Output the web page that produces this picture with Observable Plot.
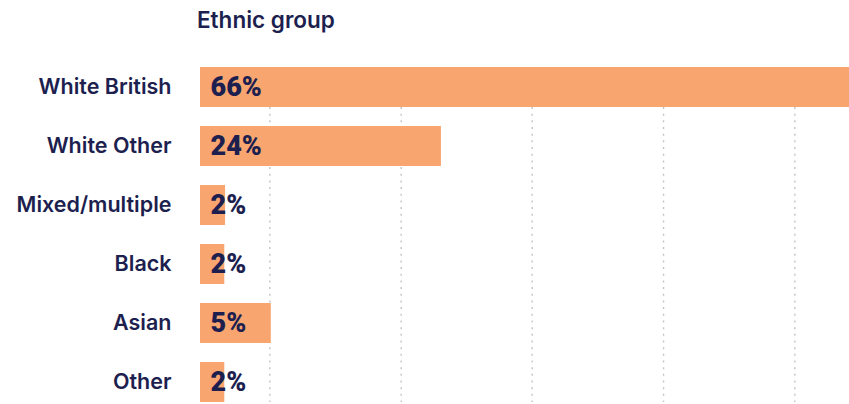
<!DOCTYPE html>
<html>
<head>
<meta charset="utf-8">
<script src="https://cdn.jsdelivr.net/npm/d3@7"></script>
<script src="https://cdn.jsdelivr.net/npm/@observablehq/plot@0.6"></script>
<style>
  html, body { margin: 0; padding: 0; background: #fff; }
  #title { height: 40px; line-height: 40px; padding-left: 197px; font-family: Inter, "Noto Sans", sans-serif; font-weight: 600; font-size: 22.5px; color: #1d1f4f; white-space: nowrap; }
  #chart svg { display: block; }
</style>
</head>
<body>
<div id="title">Ethnic group</div>
<div id="chart"></div>
<script>
const title = "Ethnic group";
const groups = ["White British", "White Other", "Mixed/multiple", "Black", "Asian", "Other"];
// bar lengths as drawn (in % units of the x scale)
const shares = [66, 24.5, 2.55, 2.47, 7.2, 2.47];
// printed labels
const labels = ["66%", "24%", "2%", "2%", "5%", "2%"];
// dotted gridline positions (x scale units)
const gridTicks = [7.05, 20.41, 33.73, 47.09, 60.44];

const data = groups.map((g, i) => ({group: g, share: shares[i], label: labels[i]}));
const navy = "#1d1f4f";
const orange = "#f9a570";

const chart = Plot.plot({
  width: 849,
  height: 364,
  marginTop: 27,
  marginBottom: 2,
  marginLeft: 200,
  marginRight: 0,
  style: {fontFamily: "Inter, 'Noto Sans', sans-serif", fontSize: "21.5px", color: navy, background: "#fff"},
  x: {domain: [0, 66], axis: null},
  y: {domain: groups, paddingInner: 0.322, paddingOuter: 0, round: false, label: null},
  marks: [
    Plot.ruleX(gridTicks, {stroke: "#c4c4c4", strokeWidth: 1.4, strokeDasharray: "2,4.67"}),
    Plot.barX(data, {x: "share", y: "group", fill: orange}),
    Plot.axisY({tickSize: 0, tickPadding: 29, fontWeight: 600, fill: navy, label: null}),
    Plot.text(data, {y: "group", text: "label", frameAnchor: "left", textAnchor: "start", dx: 10, fill: navy,
      fontFamily: "Roboto, sans-serif", fontWeight: 900, fontSize: 27})
  ]
});
document.getElementById("chart").appendChild(chart);
</script>
</body>
</html>
